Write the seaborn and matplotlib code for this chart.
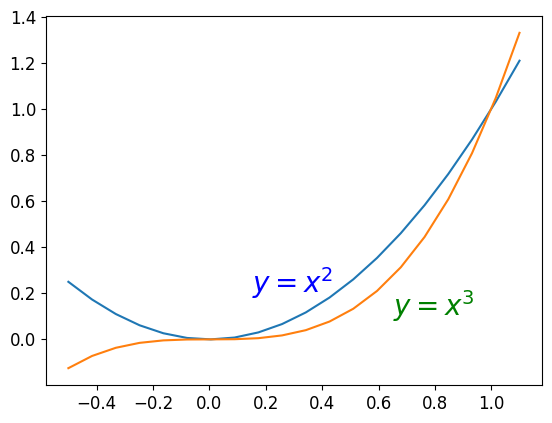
import matplotlib
matplotlib.use("Agg")
import matplotlib.pyplot as plt
import seaborn as sns

# sample points
x_vals = [-0.5, -0.4158, -0.3316, -0.2474, -0.1632, -0.0789, 0.0053, 0.0895,
          0.1737, 0.2579, 0.3421, 0.4263, 0.5105, 0.5947, 0.6789, 0.7632,
          0.8474, 0.9316, 1.0158, 1.1]
y_square = [0.25, 0.1729, 0.1100, 0.0612, 0.0266, 0.0062, 0.0000, 0.0080,
            0.0302, 0.0665, 0.1170, 0.1817, 0.2606, 0.3537, 0.4609, 0.5825,
            0.7181, 0.8679, 1.0319, 1.21]
y_cube = [-0.125, -0.0719, -0.0365, -0.0151, -0.0044, -0.0005, 0.0000, 0.0007,
          0.0052, 0.0172, 0.0400, 0.0775, 0.1330, 0.2103, 0.3129, 0.4445,
          0.6085, 0.8085, 1.0482, 1.331]

fig, ax = plt.subplots(figsize=(5.52, 4.23), dpi=100)
fig.subplots_adjust(left=0.083, right=0.982, top=0.962, bottom=0.09)

sns.lineplot(x=x_vals, y=y_square, color="C0", ax=ax)
sns.lineplot(x=x_vals, y=y_cube, color="C1", ax=ax)

ax.text(0.15, 0.2, r"$y = x^2$", color="blue", fontsize=20)
ax.text(0.65, 0.1, r"$y = x^3$", color="green", fontsize=20)

ax.tick_params(labelsize=12)

fig.savefig("out.png", dpi=100)
